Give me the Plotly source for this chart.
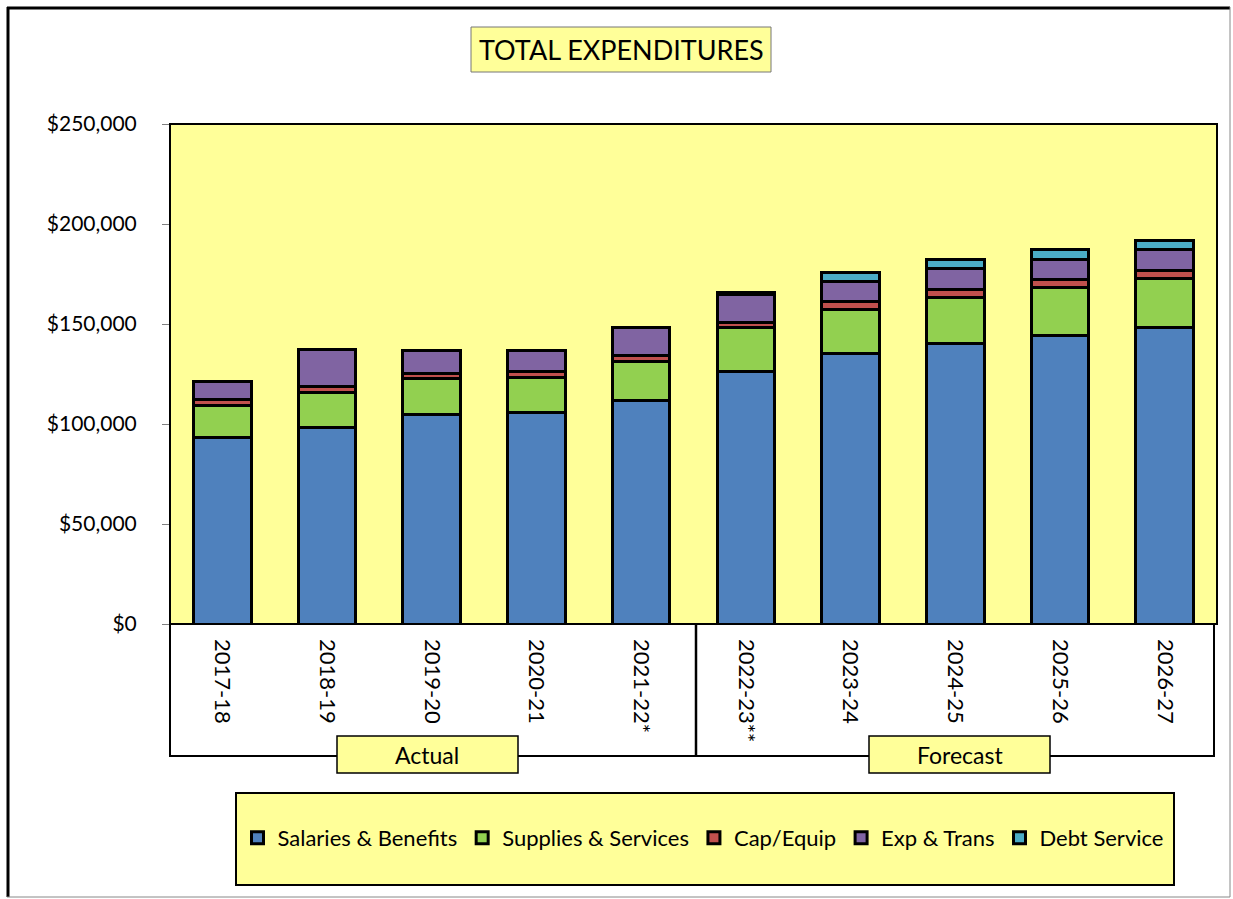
import plotly.graph_objects as go

# Fiscal years and expenditure components (dollars)
years = ["2017-18", "2018-19", "2019-20", "2020-21", "2021-22*",
         "2022-23**", "2023-24", "2024-25", "2025-26", "2026-27"]
salaries = [93500, 98500, 105000, 106000, 112000, 126500, 135500, 140500, 144500, 148500]
supplies = [16000, 17500, 18000, 17500, 19500, 22000, 22000, 23000, 24000, 24500]
cap_equip = [3000, 3000, 2500, 3000, 3000, 2500, 4000, 4000, 4000, 4000]
exp_trans = [9000, 18500, 11500, 10500, 14000, 14000, 10000, 10500, 10000, 10500]
debt_service = [0, 0, 0, 0, 0, 800, 4500, 4500, 5000, 4500]

series = [
    ("Salaries & Benefits", salaries, "#4F81BD"),
    ("Supplies & Services", supplies, "#92D050"),
    ("Cap/Equip", cap_equip, "#C0504D"),
    ("Exp & Trans", exp_trans, "#8064A2"),
    ("Debt Service", debt_service, "#4BACC6"),
]

W, H = 1233, 899
L, R, T, B = 170, 1217, 124, 624
FONT = "Lato"


def px(x):
    return (x - L) / (R - L)


def py(y):
    return (B - y) / (B - T)


fig = go.Figure()
for name, vals, color in series:
    fig.add_trace(go.Bar(
        x=years, y=vals, name=name,
        marker=dict(color=color, line=dict(color="black", width=3)),
    ))

shapes = [
    # category label panel under the plot
    dict(type="rect", xref="paper", yref="paper",
         x0=px(170), x1=px(1214), y0=py(624), y1=py(756),
         line=dict(color="black", width=2), fillcolor="white", layer="below"),
    # divider between actual and forecast years
    dict(type="line", xref="paper", yref="paper",
         x0=px(696), x1=px(696), y0=py(624), y1=py(756),
         line=dict(color="black", width=2.5)),
    # group label boxes
    dict(type="rect", xref="paper", yref="paper",
         x0=px(337), x1=px(518), y0=py(736), y1=py(773),
         line=dict(color="black", width=1.5), fillcolor="#FFFF99"),
    dict(type="rect", xref="paper", yref="paper",
         x0=px(869), x1=px(1050), y0=py(736), y1=py(773),
         line=dict(color="black", width=1.5), fillcolor="#FFFF99"),
    # title box
    dict(type="rect", xref="paper", yref="paper",
         x0=px(471), x1=px(771), y0=py(27), y1=py(72),
         line=dict(color="#777777", width=1), fillcolor="#FFFF99"),
    # legend box
    dict(type="rect", xref="paper", yref="paper",
         x0=px(236), x1=px(1174), y0=py(793), y1=py(885),
         line=dict(color="black", width=2), fillcolor="#FFFF99", layer="below"),
    # plot area frame
    dict(type="rect", xref="paper", yref="paper",
         x0=0, x1=1, y0=0, y1=1, line=dict(color="black", width=2)),
    # outer chart frame
    dict(type="line", xref="paper", yref="paper",
         x0=px(7), x1=px(1230), y0=py(8), y1=py(8),
         line=dict(color="black", width=3)),
    dict(type="line", xref="paper", yref="paper",
         x0=px(8), x1=px(8), y0=py(7), y1=py(897),
         line=dict(color="black", width=3)),
    dict(type="line", xref="paper", yref="paper",
         x0=px(1230), x1=px(1230), y0=py(7), y1=py(897),
         line=dict(color="#888888", width=1)),
    dict(type="line", xref="paper", yref="paper",
         x0=px(7), x1=px(1230), y0=py(897), y1=py(897),
         line=dict(color="#888888", width=1)),
]

annotations = [
    dict(text="TOTAL EXPENDITURES", xref="paper", yref="paper",
         x=px(621), y=py(49), xanchor="center", yanchor="middle",
         showarrow=False, font=dict(family=FONT, size=27, color="black")),
    dict(text="Actual", xref="paper", yref="paper",
         x=px(427), y=py(755), xanchor="center", yanchor="middle",
         showarrow=False, font=dict(family=FONT, size=23, color="black")),
    dict(text="Forecast", xref="paper", yref="paper",
         x=px(960), y=py(755), xanchor="center", yanchor="middle",
         showarrow=False, font=dict(family=FONT, size=23, color="black")),
]

fig.update_layout(
    width=W, height=H,
    margin=dict(l=L, r=W - R, t=T, b=H - B, pad=0),
    paper_bgcolor="white",
    plot_bgcolor="#FFFF99",
    barmode="stack",
    bargap=0.45,
    font=dict(family=FONT, size=20, color="black"),
    shapes=shapes,
    annotations=annotations,
    showlegend=True,
    legend=dict(
        orientation="h", traceorder="normal",
        x=px(703), y=py(838), xanchor="center", yanchor="middle",
        bgcolor="rgba(0,0,0,0)", borderwidth=0,
        font=dict(family=FONT, size=22, color="black"),
        itemwidth=30, tracegroupgap=0,
    ),
    xaxis=dict(
        tickangle=90, showgrid=False, ticks="", showline=False,
        tickfont=dict(family=FONT, size=22, color="black"),
        ticklabelstandoff=14,
    ),
    yaxis=dict(
        range=[0, 250000], dtick=50000, tickprefix="$", tickformat=",d",
        showgrid=False, showline=False, zeroline=False,
        ticks="outside", ticklen=7, tickcolor="#7f7f7f", tickwidth=1,
        tickfont=dict(family=FONT, size=21, color="black"),
        ticklabelstandoff=21,
    ),
)

fig.write_html("out.html")
